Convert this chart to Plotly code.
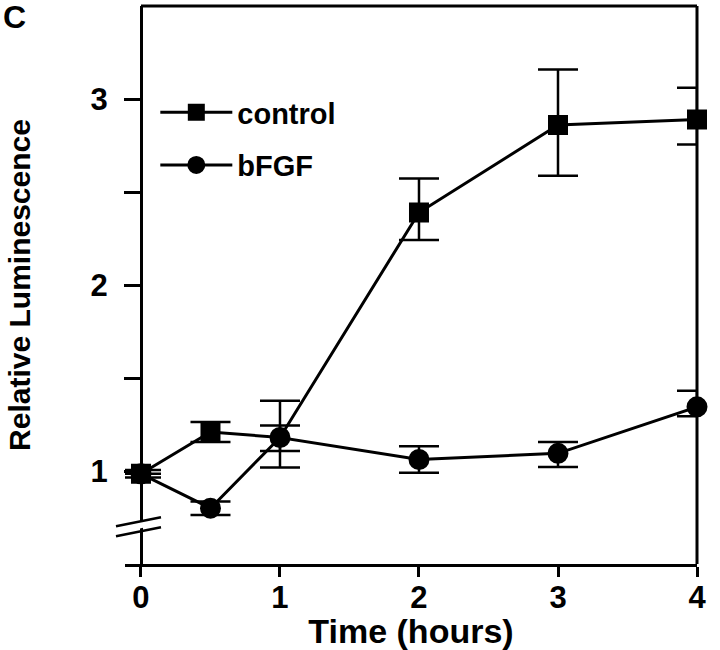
import plotly.graph_objects as go

# time points (hours)
hours = [0, 0.5, 1, 2, 3, 4]

# control series (squares) with asymmetric error bars
control = [0.985, 1.21, 1.18, 2.39, 2.86, 2.89]
control_err_up = [0.02, 0.054, 0.198, 0.183, 0.299, 0.171]
control_err_down = [0.02, 0.054, 0.161, 0.148, 0.272, 0.135]

# bFGF series (circles)
bfgf = [0.985, 0.80, 1.18, 1.062, 1.095, 1.345]
bfgf_err_up = [0.0, 0.036, 0.064, 0.071, 0.061, 0.086]
bfgf_err_down = [0.0, 0.036, 0.073, 0.071, 0.074, 0.05]

x_ticks = [0, 1, 2, 3, 4]
x_ticktext = ["0", "1", "2", "3", "4"]
y_ticks = [1, 1.5, 2, 2.5, 3]
y_ticktext = ["1", "", "2", "", "3"]

FONT = "Liberation Sans, Arial, sans-serif"
x_range = [-0.115, 4.0]
y_range = [0.5, 3.5]
break_at = 0.70  # where the y-axis break marks sit


def to_paper(v, rng):
    return (v - rng[0]) / (rng[1] - rng[0])


x0_paper = to_paper(0, x_range)

fig = go.Figure()

# bFGF first so the control square sits on top at t=0
fig.add_trace(go.Scatter(
    x=hours, y=bfgf, name="bFGF", mode="lines+markers",
    legendgroup="b", legendrank=2, cliponaxis=False,
    line=dict(color="black", width=3),
    marker=dict(symbol="circle", size=19, color="black", opacity=1,
                line=dict(color="black", width=2)),
    error_y=dict(type="data", symmetric=False, array=bfgf_err_up,
                 arrayminus=bfgf_err_down, color="black",
                 thickness=2.5, width=20),
))

# the control square at 1 h is covered by the bFGF circle in the original
ctrl_sizes = [0 if t == 1 else 18 for t in hours]
fig.add_trace(go.Scatter(
    x=hours, y=control, name="control", mode="lines+markers",
    legendgroup="c", legendrank=1, cliponaxis=False,
    line=dict(color="black", width=3),
    marker=dict(symbol="square", size=ctrl_sizes, color="black", opacity=1,
                line=dict(color="black", width=2)),
    error_y=dict(type="data", symmetric=False, array=control_err_up,
                 arrayminus=control_err_down, color="black",
                 thickness=2.5, width=20),
))

shapes = [
    # top and right frame
    dict(type="line", xref="paper", yref="paper", x0=x0_paper, x1=1, y0=1, y1=1,
         line=dict(color="black", width=3)),
    dict(type="line", xref="paper", yref="paper", x0=1, x1=1, y0=0, y1=1,
         line=dict(color="black", width=3)),
]
# axis break: white gap plus two slanted strokes
bx = x0_paper
by = to_paper(break_at, y_range)
shapes.append(dict(type="path", xref="paper", yref="paper",
                   xsizemode="pixel", ysizemode="pixel", xanchor=bx, yanchor=by,
                   path="M-6,-3 L6,0 L6,7 L-6,4 Z",
                   fillcolor="white", line=dict(width=0)))
for off in (5, -5):
    shapes.append(dict(type="line", xref="paper", yref="paper",
                       xsizemode="pixel", ysizemode="pixel", xanchor=bx, yanchor=by,
                       x0=-25, y0=off - 4.5, x1=20, y1=off + 4.5,
                       line=dict(color="black", width=2.5)))

fig.update_layout(
    width=720, height=650,
    margin=dict(l=125, r=23, t=6, b=86),
    plot_bgcolor="white", paper_bgcolor="white",
    font=dict(family=FONT, size=29, color="black", weight="bold"),
    showlegend=True,
    legend=dict(x=0.053, y=0.855, xanchor="left", yanchor="top",
                bgcolor="rgba(0,0,0,0)", itemwidth=72,
                font=dict(family=FONT, size=29, weight="bold"),
                tracegroupgap=12),
    shapes=shapes,
    annotations=[dict(text="C", xref="paper", yref="paper", x=-0.194, y=0.98,
                      xanchor="center", yanchor="middle", showarrow=False,
                      font=dict(family=FONT, size=32, weight="bold"))],
)

fig.update_xaxes(
    range=x_range, tickvals=x_ticks, ticktext=x_ticktext,
    showline=True, linecolor="black", linewidth=3,
    ticks="outside", ticklen=10, tickwidth=3, tickcolor="black",
    showgrid=False, zeroline=False, ticklabelstandoff=-6,
    tickfont=dict(family=FONT, size=31, weight="bold"),
    title=dict(text="Time (hours)", standoff=6,
               font=dict(family=FONT, size=34, weight="bold")),
)
fig.update_yaxes(
    range=y_range, tickvals=y_ticks, ticktext=y_ticktext,
    anchor="free", position=x0_paper,
    showline=True, linecolor="black", linewidth=3,
    ticks="outside", ticklen=16, tickwidth=3, tickcolor="black",
    showgrid=False, zeroline=False, ticklabelstandoff=10,
    tickfont=dict(family=FONT, size=31, weight="bold"),
    title=dict(text="Relative Luminescence", standoff=50,
               font=dict(family=FONT, size=30, weight="bold")),
)

# page body has a default 8px margin; drop it so the figure fills the window
fig.write_html("out.html", config={"displayModeBar": False},
               post_script="document.body.style.margin='0';")
